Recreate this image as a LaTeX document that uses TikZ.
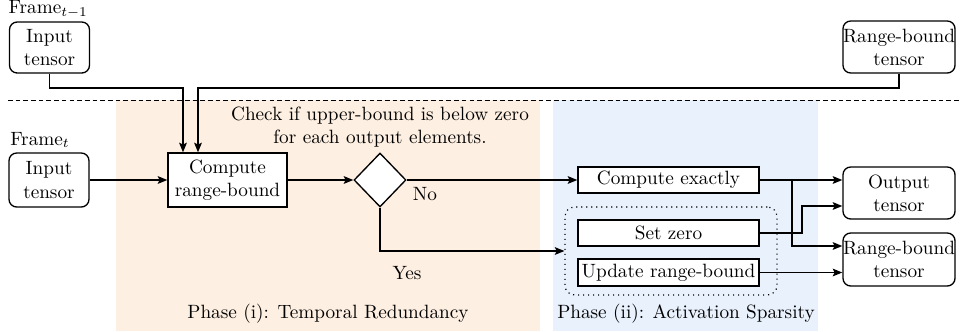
\documentclass[tikz,border=0pt]{standalone}
\usetikzlibrary{shapes.geometric,arrows.meta,calc}
\definecolor{orangebg}{RGB}{253,239,225}
\definecolor{bluebg}{RGB}{233,241,252}
\begin{document}
\begin{tikzpicture}[x=0.52pt,y=-0.52pt,
  line width=0.7pt,
  arr/.style={-{Stealth[length=5pt,width=4pt,inset=1pt]}},
  tensor/.style={draw,rounded corners=4pt,align=center,inner sep=0pt},
  procbox/.style={draw,align=center,inner sep=0pt},
  lbl/.style={inner sep=0pt,align=center}]
\useasboundingbox (0,0) rectangle (960,331);
% backgrounds
\fill[orangebg] (116,100) rectangle (540,331);
\fill[bluebg] (553,100) rectangle (818,331);
\draw[line width=0.5pt,dash pattern=on 2.4pt off 1.6pt] (8,100) -- (960,100);
% labels
\node[lbl,anchor=west] (f1) at (8,9) {Frame$_{t-1}$};
\node[lbl] (f2) at (40,140) {Frame$_t$};
% top nodes
\node[tensor,minimum width=80*0.52pt,minimum height=51*0.52pt] (in1) at (49.5,47.5) {Input\\tensor};
\node[tensor,minimum width=112*0.52pt,minimum height=52*0.52pt] (rb1) at (899,47) {Range-bound\\tensor};
% main row
\node[tensor,minimum width=80*0.52pt,minimum height=54*0.52pt] (in2) at (49,180) {Input\\tensor};
\node[procbox,fill=white,minimum width=119*0.52pt,minimum height=54*0.52pt] (crb) at (227.5,180) {Compute\\range-bound};
\node[draw,fill=white,diamond,inner sep=0pt,minimum width=52*0.52pt,minimum height=54*0.52pt] (dia) at (380,180) {};
\node[lbl] (chk) at (380,127.5) {Check if upper-bound is below zero\\for each output elements.};
\node[lbl] (no) at (425,194) {No};
\node[lbl] (yes) at (407,273) {Yes};
% dotted group
\node[draw,dotted,line width=0.6pt,rounded corners=5pt,inner sep=0pt,minimum width=212*0.52pt,minimum height=88*0.52pt] (grp) at (671,251) {};
\node[procbox,fill=white,minimum width=181*0.52pt,minimum height=26*0.52pt] (ce) at (668.5,180) {Compute exactly};
\node[procbox,fill=white,minimum width=181*0.52pt,minimum height=26*0.52pt] (sz) at (668.5,233) {Set zero};
\node[procbox,fill=white,minimum width=181*0.52pt,minimum height=27*0.52pt] (ur) at (668.5,272.5) {Update range-bound};
% outputs
\node[tensor,minimum width=112*0.52pt,minimum height=52*0.52pt] (out) at (899,193) {Output\\tensor};
\node[tensor,minimum width=112*0.52pt,minimum height=53*0.52pt] (rb2) at (899,259.5) {Range-bound\\tensor};
% phase labels
\node[lbl] (ph1) at (328,314) {Phase (i): Temporal Redundancy};
\node[lbl] (ph2) at (686,314) {Phase (ii): Activation Sparsity};
% connectors
\coordinate (j1) at (183,88);
\coordinate (j2) at (198,88);
\draw[arr] (in1.south) |- (j1) -- (j1 |- crb.north);
\draw[arr] (rb1.south) |- (j2) -- (j2 |- crb.north);
\draw[arr] (in2.east) -- (crb.west);
\draw[arr] (crb.east) -- (dia.west);
\draw[arr] (dia.east) -- (ce.west);
\draw[arr] (dia.south) |- (grp.west);
\draw[arr] (ce.east) -- (ce.east -| out.west);
\coordinate (b1) at (792,180);
\coordinate (b2) at (792,246);
\draw[arr] (b1) -- (b2) -- (b2 -| rb2.west);
\coordinate (s1) at (802,233);
\coordinate (s2) at (802,206);
\draw[arr] (sz.east) -- (s1) -- (s2) -- (s2 -| out.west);
\draw[arr] (ur.east) -- (ur.east -| rb2.west);
\end{tikzpicture}
\end{document}
